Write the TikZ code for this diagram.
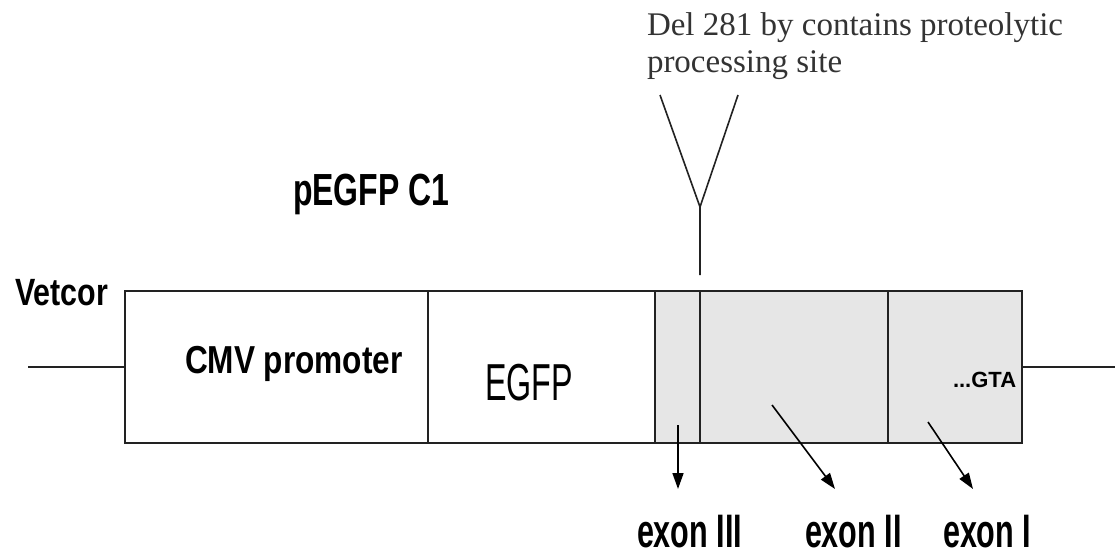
\documentclass[tikz,border=0pt]{standalone}
\usepackage{fontspec}
\setmainfont{Liberation Serif}
\newfontfamily\labfont{Liberation Sans}
\usetikzlibrary{arrows.meta}
\definecolor{exgray}{HTML}{E6E6E6}
\definecolor{ink}{HTML}{222222}
\definecolor{deltext}{HTML}{333333}
\tikzset{
  seg/.style={draw=ink, line width=2pt, minimum height=152pt, inner sep=0pt, outer sep=0pt},
  lab/.style={anchor=base west, inner sep=0pt, outer sep=0pt, text=black},
  thin/.style={draw=ink, line width=1.6pt},
  exarrow/.style={draw=black, line width=1.6pt, -{Triangle[length=16pt,width=11pt]}},
}
\begin{document}
\begin{tikzpicture}[x=1pt,y=-1pt]
\useasboundingbox (0,0) rectangle (1115,557);
% box segments
\node[seg, minimum width=303pt] (cmv) at (276.5,367) {};
\node[seg, minimum width=227pt] (egfp) at (541.5,367) {};
\node[seg, fill=exgray, minimum width=45pt] (ex3) at (677.5,367) {};
\node[seg, fill=exgray, minimum width=188pt] (ex2) at (794,367) {};
\node[seg, fill=exgray, minimum width=134pt] (ex1) at (955,367) {};
% backbone lines
\coordinate (lend) at (28,367);
\coordinate (rend) at (1115,367);
\draw[thin] (lend) -- (cmv.west);
\draw[thin] (ex1.east) -- (rend);
% Y marker
\coordinate (ytop) at (700,275);
\coordinate (yv) at (700,207);
\coordinate (yl) at (660,95);
\coordinate (yr) at (738,95);
\draw[thin] (ytop) -- (yv) -- (yl);
\draw[thin] (yv) -- (yr);
% texts
\node[lab, anchor=north west, align=left, text=deltext, font=\fontsize{33}{37}\selectfont] (del) at (647,13)
  {Del 281 by contains proteolytic\\processing site};
\node[lab, font=\labfont\bfseries\fontsize{45}{50}\selectfont] (peg) at (293,205) {\scalebox{0.71}[1]{pEGFP C1}};
\node[lab, font=\labfont\bfseries\fontsize{38}{42}\selectfont] (vet) at (15,305) {\scalebox{0.8}[1]{Vetcor}};
\node[lab, font=\labfont\bfseries\fontsize{39}{42}\selectfont] (cmvt) at (185,373) {\scalebox{0.81}[1]{CMV promoter}};
\node[lab, font=\labfont\fontsize{52}{56}\selectfont] (egfpt) at (485,400) {\scalebox{0.62}[1]{EGFP}};
\node[lab, font=\labfont\bfseries\fontsize{22}{24}\selectfont] (gta) at (953,387) {...GTA};
\node[lab, font=\labfont\bfseries\fontsize{47}{50}\selectfont] (e3) at (637,547) {\scalebox{0.65}[1]{exon III}};
\node[lab, font=\labfont\bfseries\fontsize{47}{50}\selectfont] (e2) at (805,547) {\scalebox{0.65}[1]{exon II}};
\node[lab, font=\labfont\bfseries\fontsize{47}{50}\selectfont] (e1) at (943,547) {\scalebox{0.65}[1]{exon I}};
% arrows
\coordinate (a3s) at (678,425); \coordinate (a3e) at (678,489);
\coordinate (a2s) at (772,405); \coordinate (a2e) at (835,489);
\coordinate (a1s) at (928,422); \coordinate (a1e) at (973,489);
\draw[exarrow] (a3s) -- (a3e);
\draw[exarrow] (a2s) -- (a2e);
\draw[exarrow] (a1s) -- (a1e);
\end{tikzpicture}
\end{document}
